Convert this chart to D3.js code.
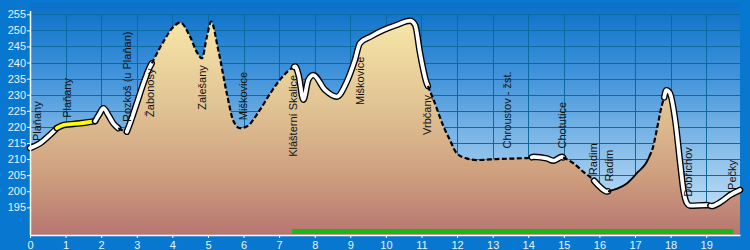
<!DOCTYPE html>
<html>
<head>
<meta charset="utf-8">
<script src="https://cdn.jsdelivr.net/npm/d3@7"></script>
<style>
  html, body { margin: 0; padding: 0; background: #0877cf; }
  svg { display: block; }
  .tick text { font-family: "Liberation Sans", Arial, sans-serif; font-size: 11px; fill: #eaf4ff; }
  .station { font-family: "Liberation Sans", Arial, sans-serif; font-size: 11px; fill: #111; }
</style>
</head>
<body>
<svg id="chart" width="750" height="250"></svg>
<script>
// Elevation profile of the route Plaňany – Pečky (km / m a.s.l.)

const distKm = [0, 0.28, 0.56, 0.75, 0.95, 1.40, 1.83, 1.95, 2.06, 2.20, 2.34, 2.48, 2.62, 2.72,
  2.81, 3.00, 3.19, 3.37, 3.47, 3.75, 4.03, 4.22, 4.50, 4.68, 4.83, 4.97, 5.09, 5.29, 5.53,
  5.71, 5.90, 6.09, 6.46, 6.75, 7.05, 7.35, 7.45, 7.55, 7.68, 7.82, 7.96, 8.29, 8.62, 8.90,
  9.13, 9.27, 9.56, 9.93, 10.31, 10.68, 10.82, 10.96, 11.15, 11.34, 11.62, 11.80, 11.99,
  12.27, 12.55, 13.12, 14.05, 14.15, 14.52, 14.71, 14.95, 15.27, 15.55, 15.83, 16.00, 16.21,
  16.50, 16.77, 17.05, 17.38, 17.50, 17.61, 17.75, 17.88, 17.98, 18.13, 18.27, 18.36, 18.46,
  18.55, 19.02, 19.16, 19.40, 19.67, 19.95];

const elevM = [213.4, 214.9, 217.5, 219.6, 220.6, 221.1, 221.8, 224.0, 225.8, 223.7, 221.1, 219.6, 218.8, 218.5,
  221.1, 227.3, 233.6, 238.7, 240.8, 246.5, 251.1, 252.4, 248.0, 243.4, 241.3, 248.0, 252.7, 243.9, 230.4,
  222.0, 219.6, 220.1, 225.3, 230.4, 235.0, 238.2, 238.8, 236.0, 228.4, 234.6, 236.1, 231.5, 229.4, 234.0,
  240.8, 246.0, 248.0, 250.1, 251.7, 253.0, 251.7, 242.9, 233.5, 228.4, 220.1, 215.9, 211.8,
  210.2, 209.7, 210.0, 210.4, 210.7, 210.2, 209.5, 210.7, 208.7, 206.0, 203.5, 201.5, 199.9,
  200.8, 202.4, 205.6, 210.2, 213.5, 219.0, 226.5, 231.4, 230.5, 222.1, 208.7, 200.4, 196.3,
  195.5, 195.7, 195.4, 196.6, 198.8, 200.4];

// Line style of each stretch of the route
const segFrom  = [0, 0.75, 1.83, 2.48, 2.72, 3.42, 7.42, 11.18, 14.10, 14.98, 15.85, 16.24, 17.40, 17.82, 19.03, 19.12];
const segTo    = [0.75, 1.83, 2.48, 2.72, 3.42, 7.42, 11.18, 14.10, 14.98, 15.85, 16.24, 17.40, 17.82, 19.03, 19.12, 19.95];
const segStyle = ["white", "yellow", "white", "dash", "white", "dash", "white", "dash", "white", "dash",
  "white", "solid", "dash", "white", "solid", "white"];

const stationNames = ["Plaňany", "Plaňany", "Rozkoš (u Plaňan)", "Žabonosy", "Zalešany", "Miškovice",
  "Klášterní Skalice", "Miškovice", "Vrbčany", "Chroustov - žst.", "Chotutice", "Radim", "Radim",
  "Dobřichov", "Pečky"];
const stationKm   = [0.20, 1.03, 2.72, 3.37, 4.83, 6.00, 7.40, 9.27, 11.15, 13.40, 14.94, 15.83, 16.26, 18.50, 19.72];
const stationElev = [215.6, 222.8, 221.5, 223.1, 225.3, 222.1, 210.7, 226.8, 217.5, 213.3, 213.3, 205.0, 203.0, 198.3, 200.4];

const greenBarKm = [7.36, 19.77];

const xTicks = d3.range(0, 20, 1);
const yTicks = d3.range(195, 256, 5);

const W = 750, H = 250;
const plot = { left: 30, right: 740, top: 3, bottom: 235 };

const svg = d3.select("#chart");
const defs = svg.append("defs");

const x = d3.scaleLinear().domain([0, 19.95]).range([plot.left, plot.right]);
const y = d3.scaleLinear().domain([186.4, 258.5]).range([plot.bottom, plot.top]);

// background
svg.append("rect").attr("width", W).attr("height", H).attr("fill", "#0877cf");

const sky = defs.append("linearGradient").attr("id", "sky")
  .attr("x1", 0).attr("y1", 0).attr("x2", 0).attr("y2", 1);
[["0", "#0a70c8"], ["0.3", "#3f92da"], ["0.65", "#8cc0ea"], ["1", "#d4eaf9"]]
  .forEach(([o, c]) => sky.append("stop").attr("offset", o).attr("stop-color", c));

const earth = defs.append("linearGradient").attr("id", "earth")
  .attr("gradientUnits", "userSpaceOnUse")
  .attr("x1", 0).attr("y1", y(255)).attr("x2", 0).attr("y2", plot.bottom);
[["0", "#f8e8a8"], ["0.4", "#e2c595"], ["0.72", "#cfa07f"], ["1", "#b67670"]]
  .forEach(([o, c]) => earth.append("stop").attr("offset", o).attr("stop-color", c));

svg.append("rect")
  .attr("x", plot.left).attr("y", plot.top)
  .attr("width", plot.right - plot.left).attr("height", plot.bottom - plot.top)
  .attr("fill", "url(#sky)");

// grid
const grid = svg.append("g").attr("stroke", "#0b6b9e").attr("stroke-width", 1);
grid.selectAll("line.gx").data(xTicks.slice(1))
  .join("line")
    .attr("x1", d => Math.round(x(d)) + 0.5).attr("x2", d => Math.round(x(d)) + 0.5)
    .attr("y1", y(255)).attr("y2", plot.bottom);
grid.selectAll("line.gy").data(yTicks)
  .join("line")
    .attr("x1", plot.left).attr("x2", plot.right)
    .attr("y1", d => Math.round(y(d)) + 0.5).attr("y2", d => Math.round(y(d)) + 0.5);

// terrain
const profile = distKm.map((d, i) => [d, elevM[i]]);

const area = d3.area()
  .x(d => x(d[0])).y0(plot.bottom).y1(d => y(d[1]))
  .curve(d3.curveMonotoneX);

svg.append("path").datum(profile)
  .attr("d", area)
  .attr("fill", "url(#earth)");

// profile line, split into styled stretches
const line = d3.line()
  .x(d => x(d[0])).y(d => y(d[1]))
  .curve(d3.curveMonotoneX);

const elevAt = d3.scaleLinear().domain(distKm).range(elevM);

function stretch(a, b) {
  const pts = profile.filter(p => p[0] > a && p[0] < b);
  return [[a, elevAt(a)], ...pts, [b, elevAt(b)]];
}

const lines = svg.append("g").attr("fill", "none")
  .attr("stroke-linejoin", "round");

segFrom.forEach((a, i) => {
  const d = line(stretch(a, segTo[i]));
  const s = segStyle[i];
  if (s === "white" || s === "yellow") {
    lines.append("path").attr("d", d)
      .attr("stroke", "#000").attr("stroke-width", 6.5).attr("stroke-linecap", "round");
    lines.append("path").attr("d", d)
      .attr("stroke", s === "white" ? "#fff" : "#ffff00")
      .attr("stroke-width", 3.8).attr("stroke-linecap", "round");
  } else if (s === "dash") {
    lines.append("path").attr("d", d)
      .attr("stroke", "#000").attr("stroke-width", 2.2)
      .attr("stroke-dasharray", "5,2.5");
  } else {
    lines.append("path").attr("d", d)
      .attr("stroke", "#000").attr("stroke-width", 1.8);
  }
});

// green bar along the bottom
svg.append("line")
  .attr("x1", x(greenBarKm[0])).attr("x2", x(greenBarKm[1]))
  .attr("y1", plot.bottom - 3.5).attr("y2", plot.bottom - 3.5)
  .attr("stroke", "#19b814").attr("stroke-width", 5);

// station labels
svg.append("g").selectAll("text")
  .data(stationNames)
  .join("text")
    .attr("class", "station")
    .attr("transform", (d, i) => `translate(${x(stationKm[i])},${y(stationElev[i])}) rotate(-90)`)
    .attr("dy", "0.35em")
    .text(d => d);

// axes
const xAxis = d3.axisBottom(x).tickValues(xTicks).tickFormat(d3.format("d"))
  .tickSize(3).tickSizeOuter(0).tickPadding(3);
const gx = svg.append("g").attr("transform", `translate(0,${plot.bottom})`).call(xAxis);

const yAxis = d3.axisLeft(y).tickValues(yTicks).tickFormat(d3.format("d"))
  .tickSize(3).tickSizeOuter(0).tickPadding(1);
const gy = svg.append("g").attr("transform", `translate(${plot.left},0)`).call(yAxis);

[gx, gy].forEach(g => {
  g.selectAll(".domain").attr("stroke", "#fff").attr("stroke-width", 1.5);
  g.selectAll(".tick line").attr("stroke", "#fff");
});
gy.select(".domain").attr("d", `M0.5,${y(256)}V${plot.bottom}`);
</script>
</body>
</html>
